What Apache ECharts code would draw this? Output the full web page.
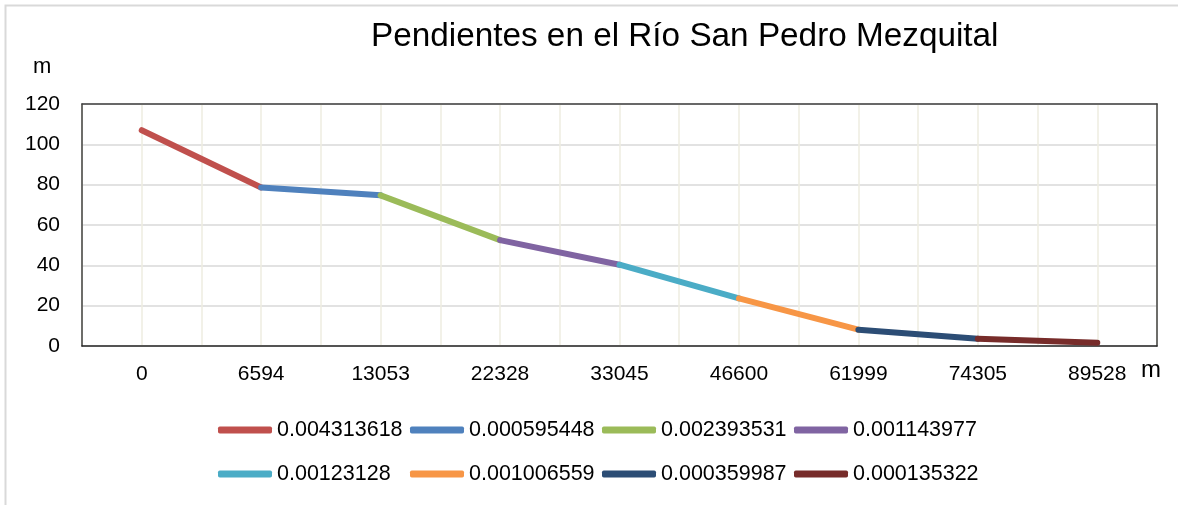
<!DOCTYPE html>
<html>
<head>
<meta charset="utf-8">
<script src="https://cdn.jsdelivr.net/npm/echarts@6/dist/echarts.min.js"></script>
<style>
html,body{margin:0;padding:0;background:#fff;}
#chart{width:1178px;height:505px;}
</style>
</head>
<body>
<div id="chart"></div>
<script>
var categories = ['0', '6594', '13053', '22328', '33045', '46600', '61999', '74305', '89528'];
var elevations = [107, 78.6, 74.7, 52.5, 40.3, 23.6, 8.1, 3.6, 1.6];
var slopeNames = ['0.004313618', '0.000595448', '0.002393531', '0.001143977',
                  '0.00123128', '0.001006559', '0.000359987', '0.000135322'];
var colors = ['#C0504D', '#4F81BD', '#9BBB59', '#8064A2', '#4BACC6', '#F79646', '#2C4D75', '#772C2A'];
var yTicks = { min: 0, max: 120, interval: 20 };

var FONT = 'Liberation Sans';
var series = slopeNames.map(function (name, k) {
  var data = categories.map(function (c, i) {
    return (i === k || i === k + 1) ? elevations[i] : null;
  });
  return {
    name: name,
    type: 'line',
    xAxisIndex: 0,
    yAxisIndex: 0,
    data: data,
    showSymbol: false,
    symbol: 'none',
    connectNulls: false,
    color: colors[k],
    lineStyle: { width: 6, color: colors[k], cap: 'round', join: 'round' },
    emphasis: { disabled: true },
    animation: false
  };
});

function legendBlock(names, top) {
  return {
    data: names,
    left: 218,
    top: top,
    orient: 'horizontal',
    icon: 'roundRect',
    itemWidth: 54,
    itemHeight: 7,
    itemGap: 3,
    padding: 0,
    textStyle: { fontFamily: FONT, fontSize: 21.5, color: '#000', width: 130, lineHeight: 24 },
    selectedMode: false
  };
}

var chart = echarts.init(document.getElementById('chart'), null, { renderer: 'canvas' });
chart.setOption({
  backgroundColor: '#fff',
  animation: false,
  color: colors,
  title: {
    text: 'Pendientes en el Río San Pedro Mezquital',
    left: 371,
    top: 20,
    padding: 0,
    textStyle: { fontFamily: FONT, fontSize: 33.3, fontWeight: 'normal', color: '#000' }
  },
  graphic: [
    { type: 'rect', shape: { x: 5.5, y: 5.5, width: 1300, height: 600 },
      style: { fill: null, stroke: '#D9D9D9', lineWidth: 2 }, silent: true, z: -1 },
    { type: 'text', left: 33, top: 56,
      style: { text: 'm', fontFamily: FONT, fontSize: 22, fill: '#000' } },
    { type: 'text', left: 1141, top: 358,
      style: { text: 'm', fontFamily: FONT, fontSize: 24, fill: '#000' } }
  ],
  legend: [
    legendBlock(slopeNames.slice(0, 4), 418),
    legendBlock(slopeNames.slice(4), 462)
  ],
  grid: { left: 82, right: 21, top: 104, bottom: 159, containLabel: false },
  xAxis: [
    {
      type: 'category',
      data: categories,
      boundaryGap: true,
      position: 'bottom',
      axisLine: { show: true, lineStyle: { color: '#262626', width: 1.5 } },
      axisTick: { show: false },
      axisLabel: { fontFamily: FONT, fontSize: 21, color: '#000', margin: 18, interval: 0 },
      splitLine: { show: false }
    },
    {
      type: 'value',
      min: 0, max: 18, interval: 1,
      position: 'top',
      axisLine: { show: true, onZero: false, lineStyle: { color: '#404040', width: 1.5 } },
      axisTick: { show: false },
      axisLabel: { show: false },
      splitLine: { show: true, lineStyle: { color: '#EEECE1', width: 1.5 } }
    }
  ],
  yAxis: [
    {
      type: 'value',
      min: yTicks.min, max: yTicks.max, interval: yTicks.interval,
      axisLine: { show: true, lineStyle: { color: '#404040', width: 1.5 } },
      axisTick: { show: false },
      axisLabel: { fontFamily: FONT, fontSize: 21, color: '#000', margin: 22 },
      splitLine: { show: true, lineStyle: { color: '#D9D9D9', width: 1.5 } }
    },
    {
      type: 'value',
      min: yTicks.min, max: yTicks.max, interval: yTicks.interval,
      position: 'right',
      axisLine: { show: true, onZero: false, lineStyle: { color: '#404040', width: 1.5 } },
      axisTick: { show: false },
      axisLabel: { show: false },
      splitLine: { show: false }
    }
  ],
  series: series
});
</script>
</body>
</html>
